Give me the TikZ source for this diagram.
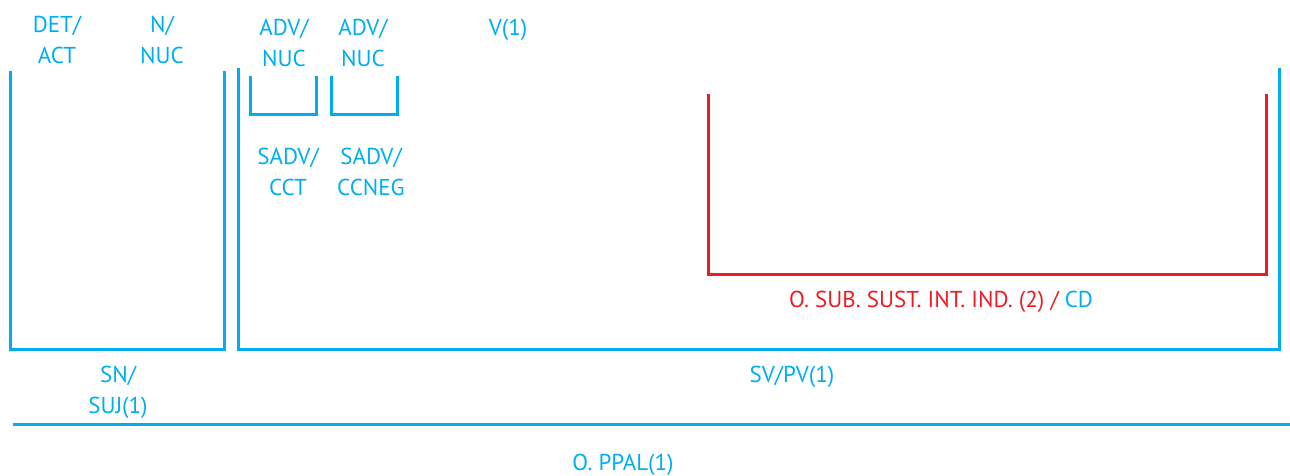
\documentclass[tikz,border=0pt]{standalone}
\usepackage{fontspec}
\setmainfont{PT Sans}
\definecolor{cy}{RGB}{0,174,239}
\definecolor{rd}{RGB}{237,28,36}
\begin{document}
\begin{tikzpicture}[x=1pt,y=-1pt,
  br/.style={draw=cy,line width=3pt,line join=miter},
  rbr/.style={draw=rd,line width=3pt,line join=miter},
  lab/.style={text=cy,font=\fontsize{23}{31}\selectfont,align=center,inner sep=0pt,anchor=base}]
\useasboundingbox (0,0) rectangle (1290,475);
% brackets
\draw[br] (10,71) -- (10,349) -- (224,349) -- (224,71);
\draw[br] (238,68) -- (238,349) -- (1279,349) -- (1279,68);
\draw[br] (250,76) -- (250,114) -- (316,114) -- (316,76);
\draw[br] (331,76) -- (331,114) -- (397,114) -- (397,76);
\draw[rbr] (708,94) -- (708,274) -- (1266,274) -- (1266,94);
\draw[br] (13,424) -- (1290,424);
% labels
\node[lab] (det) at (57,63) {DET/\\ACT};
\node[lab] (n) at (162,63) {N/\\NUC};
\node[lab] (adv1) at (284,66) {ADV/\\NUC};
\node[lab] (adv2) at (363,66) {ADV/\\NUC};
\node[lab] (v) at (508,35) {V(1)};
\node[lab] (sadv1) at (288,195) {SADV/\\CCT};
\node[lab] (sadv2) at (371,195) {SADV/\\CCNEG};
\node[lab] (osub) at (941,307) {\textcolor{rd}{O. SUB. SUST. INT. IND. (2) /} CD};
\node[lab] (sv) at (792,382) {SV/PV(1)};
\node[lab] (sn) at (118,413) {SN/\\SUJ(1)};
\node[lab] (opp) at (623,470) {O. PPAL(1)};
\end{tikzpicture}
\end{document}
